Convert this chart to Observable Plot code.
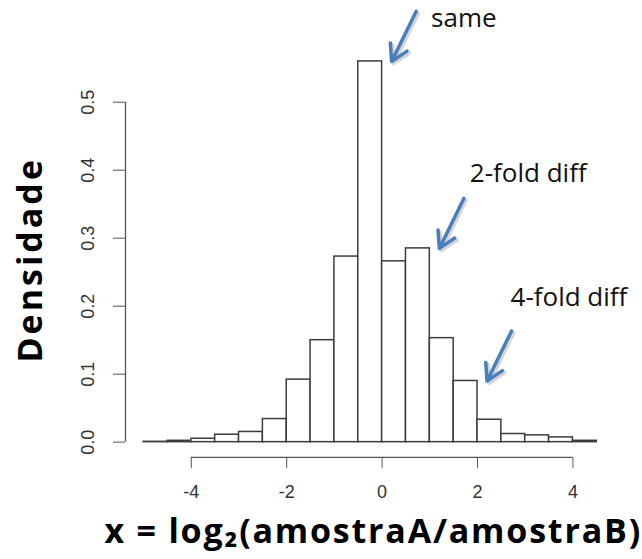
<!DOCTYPE html>
<html>
<head>
<meta charset="utf-8">
<script src="https://cdn.jsdelivr.net/npm/d3@7"></script>
<script src="https://cdn.jsdelivr.net/npm/@observablehq/plot@0.6"></script>
<style>
  html, body { margin: 0; padding: 0; background: #fff; }
  #chart svg { display: block; }
</style>
</head>
<body>
<div id="chart"></div>
<script>
// ---- data ----
const binStarts = [-5, -4.5, -4, -3.5, -3, -2.5, -2, -1.5, -1, -0.5, 0, 0.5, 1, 1.5, 2, 2.5, 3, 3.5, 4];
const binWidth = 0.5;
const densities = [0.0005, 0.002, 0.005, 0.011, 0.015, 0.034, 0.092, 0.150, 0.273, 0.560,
                   0.266, 0.285, 0.153, 0.090, 0.033, 0.012, 0.010, 0.007, 0.002];
const xTicks = [-4, -2, 0, 2, 4];
const xTickLabels = ["-4", "-2", "0", "2", "4"];
const yTicks = [0, 0.1, 0.2, 0.3, 0.4, 0.5];
const yTickLabels = ["0.0", "0.1", "0.2", "0.3", "0.4", "0.5"];
const annotationLabels = ["same", "2-fold diff", "4-fold diff"];
const annotationBins = [-0.5, 0.5, 1.5];
const xTitle = "x = log\u2082(amostraA/amostraB)";
const yTitle = "Densidade";

// ---- layout / style ----
const W = 642, H = 559;
const mL = 125, mR = 27.6, mT = 45.7, mB = 102.1;
const labelOffsets = [[49, -34], [40, -66], [33, -75]]; // px from bar's top-right corner
const arrowTip = [9.5, 0], arrowTail = [34, -50];
const arrowColor = "#4a7ebb";

const bins = binStarts.map((s, i) => ({x0: s, x1: s + binWidth, density: densities[i]}));
// R-like 4% axis extension
const xlo = binStarts[0], xhi = binStarts[binStarts.length - 1] + binWidth;
const xpad = (xhi - xlo) * 0.04;
const xDom = [xlo - xpad, xhi + xpad];
const ymax = d3.max(densities);
const yDom = [-ymax * 0.04, ymax * 1.04];
const kx = (W - mL - mR) / (xDom[1] - xDom[0]);
const ky = (H - mT - mB) / (yDom[1] - yDom[0]);

const ann = annotationLabels.map((label, i) => {
  const b = bins.find(d => d.x0 === annotationBins[i]);
  return {label, x: b.x1, y: b.density, off: labelOffsets[i]};
});

const tickFont = "'Liberation Sans', Arial, sans-serif";
const titleFont = "'Open Sans', 'Noto Sans', sans-serif";

const chart = Plot.plot({
  width: W, height: H,
  marginLeft: mL, marginRight: mR, marginTop: mT, marginBottom: mB,
  x: {domain: xDom},
  y: {domain: yDom},
  style: {background: "#fff", fontFamily: tickFont},
  marks: [
    Plot.rectY(bins, {x1: "x0", x2: "x1", y: "density", fill: "white", stroke: "#3c3c3c", strokeWidth: 1.5}),
    // R-style axes
    Plot.ruleY([yDom[0]], {x1: xTicks[0], x2: xTicks[xTicks.length - 1], stroke: "#555", strokeWidth: 1.3}),
    Plot.ruleX([xDom[0]], {y1: yTicks[0], y2: yTicks[yTicks.length - 1], stroke: "#555", strokeWidth: 1.3}),
    Plot.axisX({ticks: xTicks, tickSize: 11, tickPadding: 17, fontSize: 18, stroke: "#555", fill: "#333",
      tickFormat: d => xTickLabels[xTicks.indexOf(d)], label: null}),
    Plot.axisY({ticks: yTicks, tickSize: 12, stroke: "#555", tickFormat: () => "", label: null}),
    Plot.text(yTicks, {y: d => d, text: d => yTickLabels[yTicks.indexOf(d)], frameAnchor: "left",
      textAnchor: "middle", lineAnchor: "middle", dx: -37, rotate: -90, fontSize: 18, fill: "#333"}),
    // arrows (shadow + arrow)
    Plot.arrow(ann, {x1: d => d.x + arrowTail[0] / kx, y1: d => d.y - arrowTail[1] / ky,
      x2: d => d.x + arrowTip[0] / kx, y2: d => d.y - arrowTip[1] / ky,
      stroke: "#888", strokeOpacity: 0.35, strokeWidth: 4, headLength: 14, headAngle: 60, dx: 2, dy: 2}),
    Plot.arrow(ann, {x1: d => d.x + arrowTail[0] / kx, y1: d => d.y - arrowTail[1] / ky,
      x2: d => d.x + arrowTip[0] / kx, y2: d => d.y - arrowTip[1] / ky,
      stroke: arrowColor, strokeWidth: 3.5, headLength: 14, headAngle: 60}),
    Plot.text(ann, {x: d => d.x + d.off[0] / kx, y: d => d.y - d.off[1] / ky, text: "label",
      textAnchor: "start", lineAnchor: "bottom", fontSize: 26, fontFamily: titleFont, fill: "#111"}),
    // axis titles
    Plot.text([xTitle], {frameAnchor: "bottom", textAnchor: "middle", dx: 3, dy: 86, fontSize: 34, fontWeight: "bold",
      fontFamily: titleFont, fill: "#000", lineAnchor: "bottom"}),
    Plot.text([yTitle], {frameAnchor: "left", textAnchor: "middle", lineAnchor: "middle", dx: -94, dy: 8,
      rotate: -90, fontSize: 34, fontWeight: "bold", fontFamily: titleFont, fill: "#000"})
  ]
});
// slightly wider tracking of the titles, as in the reference
d3.select(chart).selectAll("text").filter(function() { return this.textContent === xTitle; })
  .attr("letter-spacing", "1.8px");
d3.select(chart).selectAll("text").filter(function() { return this.textContent === yTitle; })
  .attr("letter-spacing", "3px");
document.getElementById("chart").appendChild(chart);
</script>
</body>
</html>
